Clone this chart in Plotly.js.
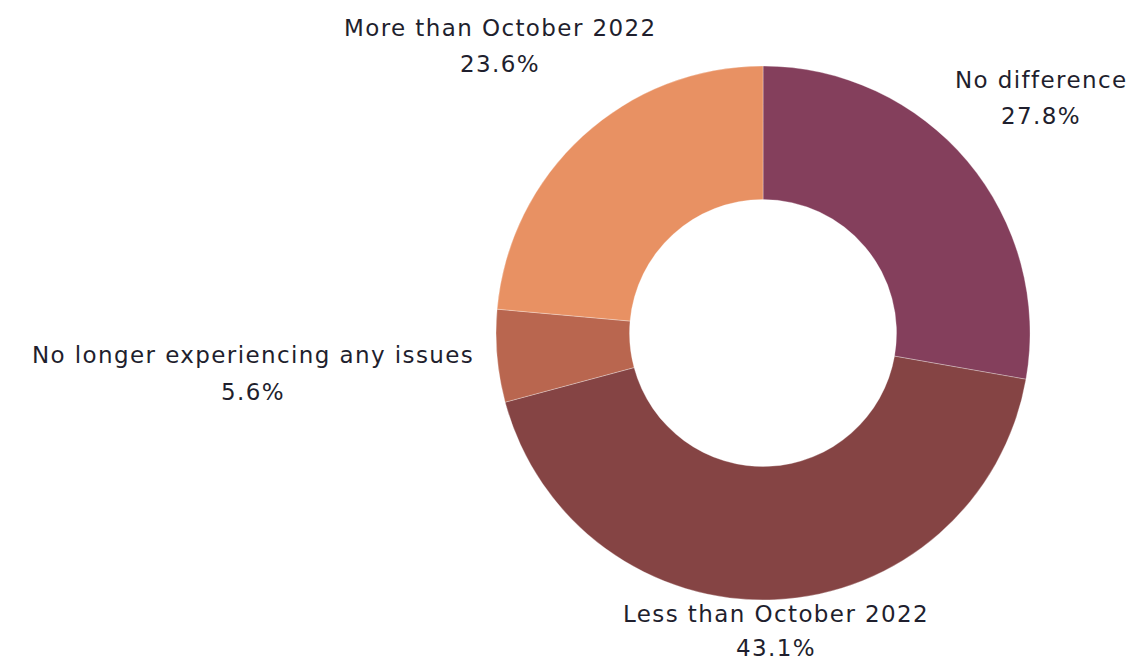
<!DOCTYPE html>
<html>
<head>
<meta charset="utf-8">
<script src="https://cdn.plot.ly/plotly-3.0.1.min.js"></script>
<style>
html,body{margin:0;padding:0;background:#fff;}
#chart{width:1138px;height:662px;}
.annotation-text{letter-spacing:1.4px;}
</style>
</head>
<body>
<div id="chart"></div>
<script>
const categories = ["No difference", "Less than October 2022", "No longer experiencing any issues", "More than October 2022"];
const shares = [27.8, 43.1, 5.6, 23.6];
const colors = ["#843F5C", "#854444", "#B9664F", "#E89163"];

// label placement (paper pixels) for each category: [x centre, y of name line, y of value line]
const labelSpots = [[1041, 80, 116], [776, 614, 648], [253, 355, 392], [500, 28, 64]];

const W = 1138, H = 662;
const labelFont = {family: "DejaVu Sans, sans-serif", size: 23, color: "#1f1f2e"};

const trace = {
  type: "pie",
  labels: categories,
  values: shares,
  hole: 0.5,
  sort: false,
  direction: "clockwise",
  rotation: 0,
  marker: {colors: colors, line: {color: "rgba(255,255,255,0.6)", width: 0.5}},
  textinfo: "none",
  domain: {x: [0.42, 0.921], y: [62 / H, 1 - 66 / H]},
  hoverinfo: "label+value",
  showlegend: false
};

const annotations = [];
categories.forEach((name, i) => {
  const [cx, y1, y2] = labelSpots[i];
  annotations.push({
    xref: "paper", yref: "paper", x: cx / W, y: 1 - y1 / H,
    xanchor: "center", yanchor: "middle", showarrow: false,
    text: name, font: labelFont
  });
  annotations.push({
    xref: "paper", yref: "paper", x: cx / W, y: 1 - y2 / H,
    xanchor: "center", yanchor: "middle", showarrow: false,
    text: shares[i].toFixed(1) + "%", font: labelFont
  });
});

const layout = {
  width: W,
  height: H,
  margin: {l: 0, r: 0, t: 0, b: 0},
  paper_bgcolor: "#fff",
  showlegend: false,
  annotations: annotations
};

Plotly.newPlot("chart", [trace], layout, {displayModeBar: false, staticPlot: true});
</script>
</body>
</html>
